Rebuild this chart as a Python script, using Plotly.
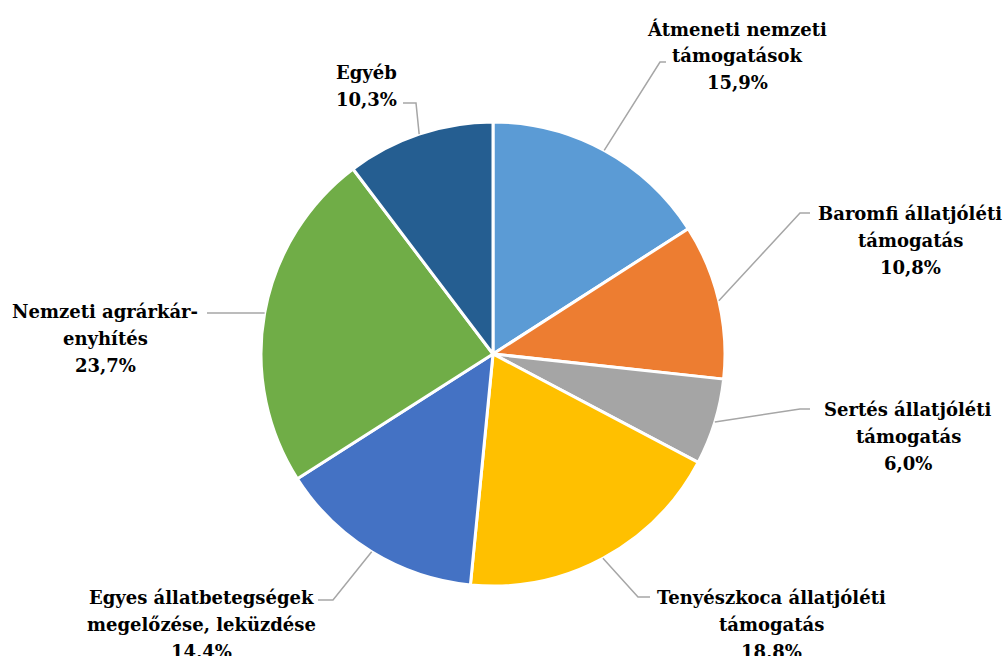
import math
import plotly.graph_objects as go

# ---- data ----
categories = [
    "Átmeneti nemzeti<br>támogatások",
    "Baromfi állatjóléti<br>támogatás",
    "Sertés állatjóléti<br>támogatás",
    "Tenyészkoca állatjóléti<br>támogatás",
    "Egyes állatbetegségek<br>megelőzése, leküzdése",
    "Nemzeti agrárkár-<br>enyhítés",
    "Egyéb",
]
values = [15.9, 10.8, 6.0, 18.8, 14.4, 23.7, 10.3]
value_labels = ["15,9%", "10,8%", "6,0%", "18,8%", "14,4%", "23,7%", "10,3%"]
colors = ["#5B9BD5", "#ED7D31", "#A5A5A5", "#FFC000", "#4472C4", "#70AD47", "#255E91"]

# ---- layout constants (pixels) ----
W, H = 1006, 656
CX, CY, R = 493, 354, 232
LINE_H = 27
# label centre positions and leader-line elbows (pixels)
label_pos = [(737, 56), (910, 240), (908, 436), (771, 624), (201, 624), (105, 338), (366, 86)]
elbows = [((660, 62), (666, 62)), ((800, 213), (810, 213)), ((800, 409), (810, 409)),
          ((638, 597), (650, 597)), ((333, 600), (318, 600)), ((250, 313), (207, 313)),
          ((416, 103), (403, 103))]

def px(x):
    return x / W

def py(y):
    return 1 - y / H

fig = go.Figure()
fig.add_trace(go.Pie(
    labels=[c.replace("<br>", " ") for c in categories],
    values=values,
    sort=False,
    direction="clockwise",
    rotation=0,
    textinfo="none",
    hoverinfo="label+percent",
    marker=dict(colors=colors, line=dict(color="white", width=3)),
    domain=dict(x=[px(CX - R), px(CX + R)], y=[py(CY + R), py(CY - R)]),
    showlegend=False,
))

total = sum(values)
cum = 0.0
shapes = []
annotations = []
for i, v in enumerate(values):
    mid = (cum + v / 2) / total * 2 * math.pi
    cum += v
    ex = CX + R * math.sin(mid)
    ey = CY - R * math.cos(mid)
    (e1x, e1y), (e2x, e2y) = elbows[i]
    path = f"M {px(ex)},{py(ey)} L {px(e1x)},{py(e1y)} L {px(e2x)},{py(e2y)}"
    shapes.append(dict(type="path", xref="paper", yref="paper", path=path,
                       line=dict(color="#A6A6A6", width=1.5)))
    lx, ly = label_pos[i]
    lines = categories[i].split("<br>") + [value_labels[i]]
    n = len(lines)
    for k, line in enumerate(lines):
        yy = ly + (k - (n - 1) / 2) * LINE_H
        annotations.append(dict(
            x=px(lx), y=py(yy), xref="paper", yref="paper",
            xanchor="center", yanchor="middle", showarrow=False,
            text=f"<b>{line}</b>",
            font=dict(family="DejaVu Serif", size=18, color="#000000"),
            align="center",
        ))

fig.update_layout(
    width=W, height=H,
    margin=dict(l=0, r=0, t=0, b=0),
    paper_bgcolor="white",
    plot_bgcolor="white",
    font=dict(family="DejaVu Serif"),
    shapes=shapes,
    annotations=annotations,
)

fig.write_html("out.html", config={"displayModeBar": False},
               post_script="document.body.style.margin='0';document.body.style.overflow='hidden';")
